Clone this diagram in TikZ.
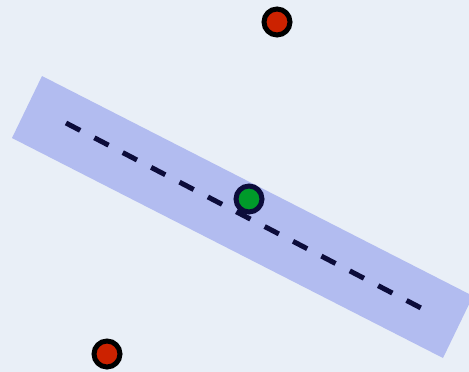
\documentclass[tikz,border=0pt]{standalone}
\definecolor{paper}{RGB}{233,239,247}
\definecolor{bandblue}{RGB}{178,188,240}
\definecolor{navy}{RGB}{12,12,58}
\definecolor{dotgreen}{RGB}{0,154,42}
\definecolor{dotred}{RGB}{204,34,0}
\tikzset{
  reddot/.style={circle, draw=black, line width=5pt, fill=dotred, minimum size=26pt, inner sep=0pt},
  greendot/.style={circle, draw=navy, line width=5pt, fill=dotgreen, minimum size=26pt, inner sep=0pt},
  axisline/.style={draw=navy, line width=5pt, dash pattern=on 16pt off 16pt}
}
\begin{document}
\begin{tikzpicture}[x=1pt,y=-1pt]
  % paper background
  \fill[paper] (0,0) rectangle (469,372);
  \useasboundingbox (0,0) rectangle (469,372);
  % tilted band
  \fill[bandblue] (42,76) -- (473,296) -- (443,358) -- (12,138) -- cycle;
  % dashed axis through the band
  \coordinate (axisA) at (66,123);
  \coordinate (axisB) at (421,308);
  \draw[axisline] (axisA) -- (axisB);
  % points
  \node[greendot] (mid) at (249,199) {};
  \node[reddot] (top) at (277,22) {};
  \node[reddot] (bottom) at (107,354) {};
\end{tikzpicture}
\end{document}
